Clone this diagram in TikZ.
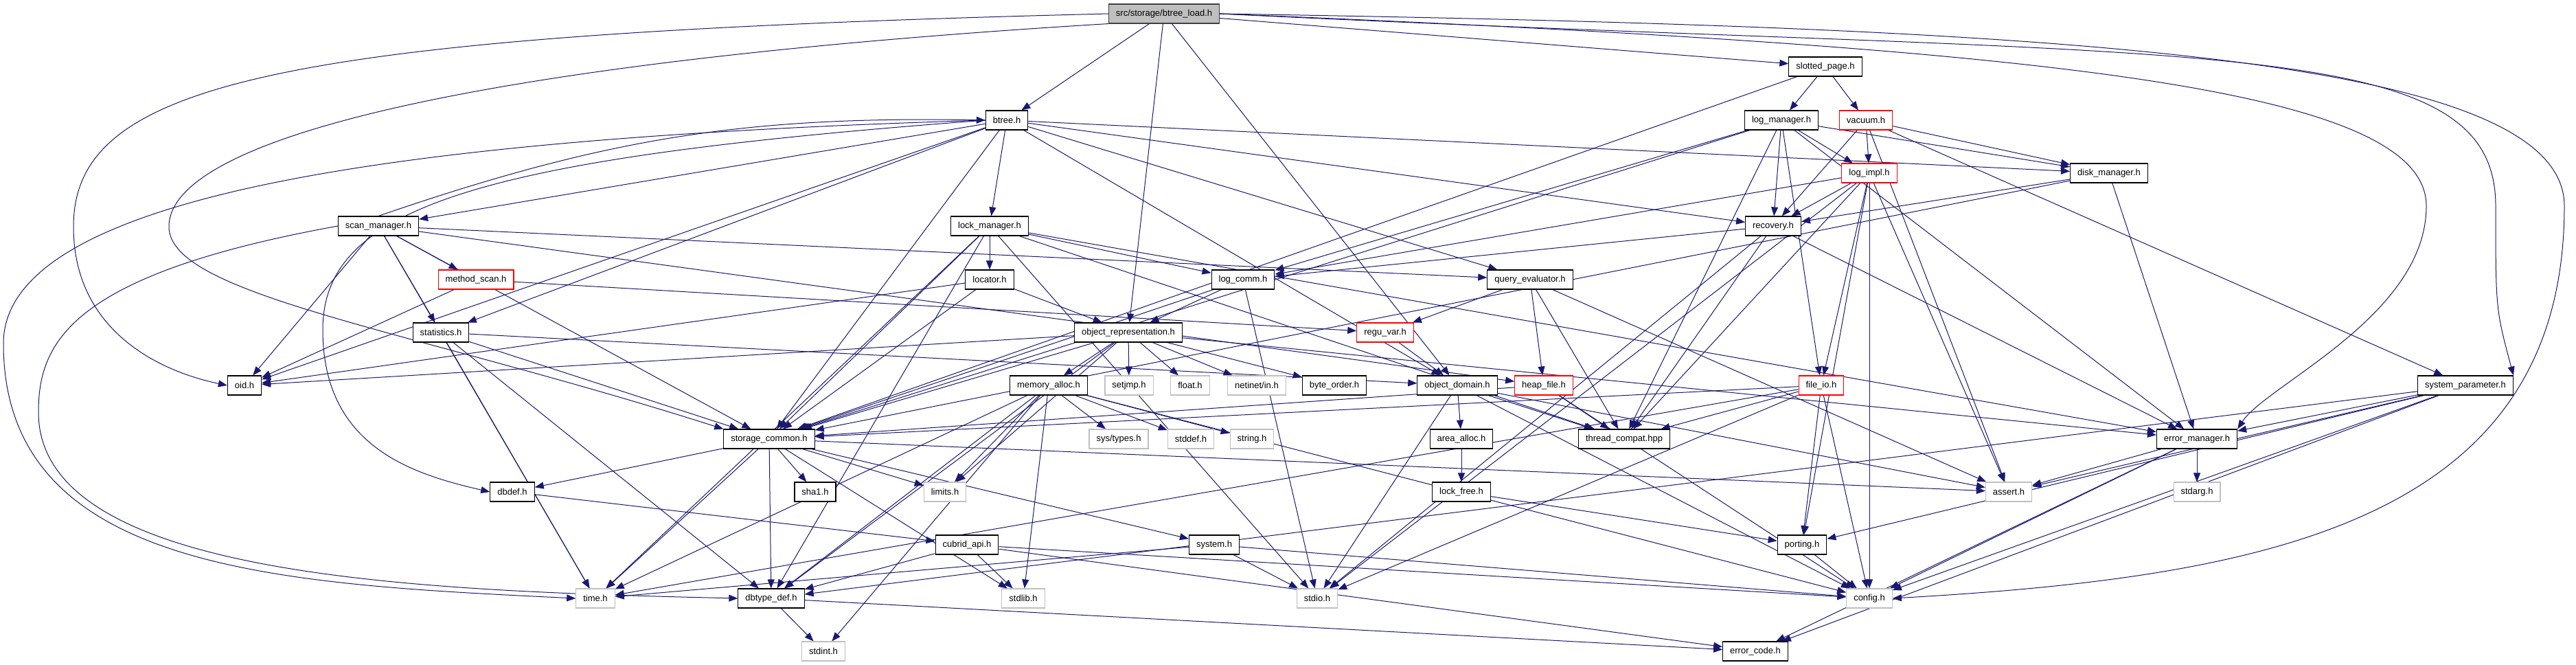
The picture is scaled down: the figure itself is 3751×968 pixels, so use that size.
\documentclass[tikz,border=0pt]{standalone}
\usepackage{fontspec}
\setmainfont{Liberation Sans}
\usetikzlibrary{arrows.meta,backgrounds}
\definecolor{edgeblue}{HTML}{191970}
\definecolor{sysgray}{HTML}{BFBFBF}
\definecolor{rootgray}{HTML}{404040}
\begin{document}
\begin{tikzpicture}[x=1pt,y=-1pt,
    box/.style={draw=black,fill=white,line width=1.1pt,minimum height=28pt,inner xsep=10.5pt,inner ysep=0pt,font=\fontsize{13}{15}\selectfont},
    redbox/.style={box,draw=red},
    sysbox/.style={box,draw=sysgray},
    rootbox/.style={box,draw=rootgray,fill=sysgray},
    dep/.style={draw=edgeblue,line width=1pt,-{Triangle[length=13pt,width=10pt]}}]
    \useasboundingbox (0,0) rectangle (3751,968);
    % files
    \node[rootbox] (root) at (1695,20) {src/storage/btree\_load.h};
    \node[box] (btree) at (1466,175) {btree.h};
    \node[box] (slotted) at (2658,97) {slotted\_page.h};
    \node[box] (logmgr) at (2594,175) {log\_manager.h};
    \node[redbox] (vacuum) at (2717,175) {vacuum.h};
    \node[box] (diskmgr) at (3071,252) {disk\_manager.h};
    \node[redbox] (logimpl) at (2722,252) {log\_impl.h};
    \node[box] (scanmgr) at (551,329) {scan\_manager.h};
    \node[box] (lockmgr) at (1441,329) {lock\_manager.h};
    \node[box] (recovery) at (2582,329) {recovery.h};
    \node[redbox] (mscan) at (693,407) {method\_scan.h};
    \node[box] (locator) at (1441,407) {locator.h};
    \node[box] (logcomm) at (1810,407) {log\_comm.h};
    \node[box] (qeval) at (2228,407) {query\_evaluator.h};
    \node[box] (stats) at (642,484) {statistics.h};
    \node[box] (objrep) at (1643,484) {object\_representation.h};
    \node[redbox] (reguvar) at (2017,484) {regu\_var.h};
    \node[box] (oid) at (356,561) {oid.h};
    \node[box] (memalloc) at (1527,561) {memory\_alloc.h};
    \node[sysbox] (setjmp) at (1644,561) {setjmp.h};
    \node[sysbox] (float) at (1733,561) {float.h};
    \node[sysbox] (netinet) at (1830,561) {netinet/in.h};
    \node[box] (byteorder) at (1943,561) {byte\_order.h};
    \node[box] (objdom) at (2122,561) {object\_domain.h};
    \node[redbox] (heapfile) at (2248,561) {heap\_file.h};
    \node[redbox] (fileio) at (2652,561) {file\_io.h};
    \node[box] (syspar) at (3590,561) {system\_parameter.h};
    \node[box] (stcommon) at (1120,639) {storage\_common.h};
    \node[sysbox] (systypes) at (1629,639) {sys/types.h};
    \node[sysbox] (stddef) at (1734,639) {stddef.h};
    \node[sysbox] (string) at (1823,639) {string.h};
    \node[box] (areaalloc) at (2128,639) {area\_alloc.h};
    \node[box] (threadc) at (2365,639) {thread\_compat.hpp};
    \node[box] (errmgr) at (3199,639) {error\_manager.h};
    \node[box] (dbdef) at (746,716) {dbdef.h};
    \node[box] (sha1) at (1187,716) {sha1.h};
    \node[sysbox] (limits) at (1376,716) {limits.h};
    \node[box] (lockfree) at (2128,716) {lock\_free.h};
    \node[sysbox] (assert) at (2925,716) {assert.h};
    \node[sysbox] (stdarg) at (3199,716) {stdarg.h};
    \node[box] (cubridapi) at (1408,793) {cubrid\_api.h};
    \node[box] (system) at (1768,793) {system.h};
    \node[box] (porting) at (2624,793) {porting.h};
    \node[sysbox] (time) at (867,871) {time.h};
    \node[box] (dbtype) at (1123,871) {dbtype\_def.h};
    \node[sysbox] (stdlib) at (1490,871) {stdlib.h};
    \node[sysbox] (stdio) at (1918,871) {stdio.h};
    \node[sysbox] (config) at (2722,871) {config.h};
    \node[sysbox] (stdint) at (1199,948) {stdint.h};
    \node[box] (errcode) at (2556,948) {error\_code.h};
    % includes, drawn behind the boxes
    \begin{pgfonlayer}{background}
    \fill[white] (0,0) rectangle (3751,968);
    \foreach \a/\b in {root/btree, root/objrep, root/objdom, root/slotted,
        btree/lockmgr, btree/scanmgr, btree/stats, btree/oid, btree/stcommon, btree/diskmgr,
        btree/recovery, btree/qeval, btree/objdom,
        scanmgr/mscan, scanmgr/oid, scanmgr/stcommon, scanmgr/heapfile, scanmgr/qeval,
        scanmgr/stats, scanmgr/time, mscan/reguvar, mscan/oid,
        stats/stcommon, stats/objdom, stats/dbtype, stats/time,
        lockmgr/locator, lockmgr/logcomm, lockmgr/stcommon, lockmgr/errmgr, lockmgr/threadc,
        lockmgr/time, lockmgr/dbtype, lockmgr/stdio,
        locator/objrep, locator/stcommon, locator/oid, logcomm/objrep, logcomm/stcommon, logcomm/stdio,
        objrep/memalloc, objrep/setjmp, objrep/float, objrep/netinet, objrep/byteorder, objrep/oid,
        objrep/stcommon, objrep/limits, objrep/errmgr, objrep/dbtype,
        memalloc/systypes, memalloc/stddef, memalloc/string, memalloc/limits, memalloc/stdlib,
        memalloc/stdint, memalloc/dbtype, memalloc/time, memalloc/config,
        stcommon/dbdef, stcommon/sha1, stcommon/limits, stcommon/dbtype, stcommon/time,
        stcommon/system, stcommon/assert, stcommon/stdlib,
        dbdef/cubridapi, cubridapi/dbtype, cubridapi/stdlib, cubridapi/errcode, cubridapi/config,
        system/time, system/stdio, system/config, dbtype/stdint, dbtype/errcode,
        slotted/logmgr, slotted/vacuum, slotted/stcommon,
        logmgr/logimpl, logmgr/recovery, logmgr/diskmgr, logmgr/logcomm, logmgr/stcommon,
        logmgr/errmgr, logmgr/threadc, logmgr/fileio,
        vacuum/logimpl, vacuum/recovery, vacuum/diskmgr, vacuum/syspar, vacuum/assert,
        logimpl/recovery, logimpl/fileio, logimpl/logcomm, logimpl/threadc, logimpl/assert,
        logimpl/porting, logimpl/config, logimpl/stdio,
        diskmgr/recovery, diskmgr/errmgr, diskmgr/stcommon,
        recovery/logcomm, recovery/errmgr, recovery/threadc, recovery/stdio,
        qeval/reguvar, qeval/heapfile, qeval/threadc, qeval/assert, reguvar/objdom,
        objdom/areaalloc, objdom/stdio, objdom/config, objdom/threadc, objdom/assert,
        heapfile/threadc, heapfile/config, heapfile/stcommon,
        areaalloc/lockfree, lockfree/porting,
        fileio/porting, fileio/config, fileio/stdio, fileio/threadc, fileio/stcommon, fileio/time,
        errmgr/assert, errmgr/stdarg, errmgr/config, errmgr/errcode,
        syspar/errmgr, syspar/porting, syspar/config, syspar/errcode, syspar/dbtype, syspar/assert,
        porting/config}
        \draw[dep] (\a) -- (\b);
    % long routes round the sides
    \draw[dep] (root.west) .. controls (400,50) and (107,120) .. (107,330)
        .. controls (107,480) and (230,540) .. (oid.west);
    \draw[dep] (root.south west) .. controls (700,90) and (246,200) .. (246,330)
        .. controls (246,430) and (600,480) .. (stcommon.north west);
    \draw[dep] (root.east) .. controls (3000,40) and (3734,80) .. (3734,300)
        .. controls (3734,760) and (3300,840) .. (config.east);
    \draw[dep] (root.east) .. controls (3200,90) and (3634,40) .. (3634,300)
        .. controls (3634,450) .. (syspar.north east);
    \draw[dep] (root.east) .. controls (3000,70) and (3533,130) .. (3533,300)
        .. controls (3533,460) and (3300,560) .. (errmgr.north east);
    \draw[dep] (btree.west) .. controls (600,200) and (5,280) .. (5,500)
        .. controls (5,830) and (400,850) .. (time.west);
    \draw[dep] (btree.west) .. controls (700,230) and (470,300) .. (470,480)
        .. controls (470,650) and (600,690) .. (dbdef.west);
    \draw[dep] (scanmgr.west) .. controls (100,400) and (56,500) .. (56,600)
        .. controls (56,840) and (600,860) .. (dbtype.west);
    \draw[dep] (scanmgr.north) to[bend left=10] (btree.west);
    \end{pgfonlayer}
\end{tikzpicture}
\end{document}
